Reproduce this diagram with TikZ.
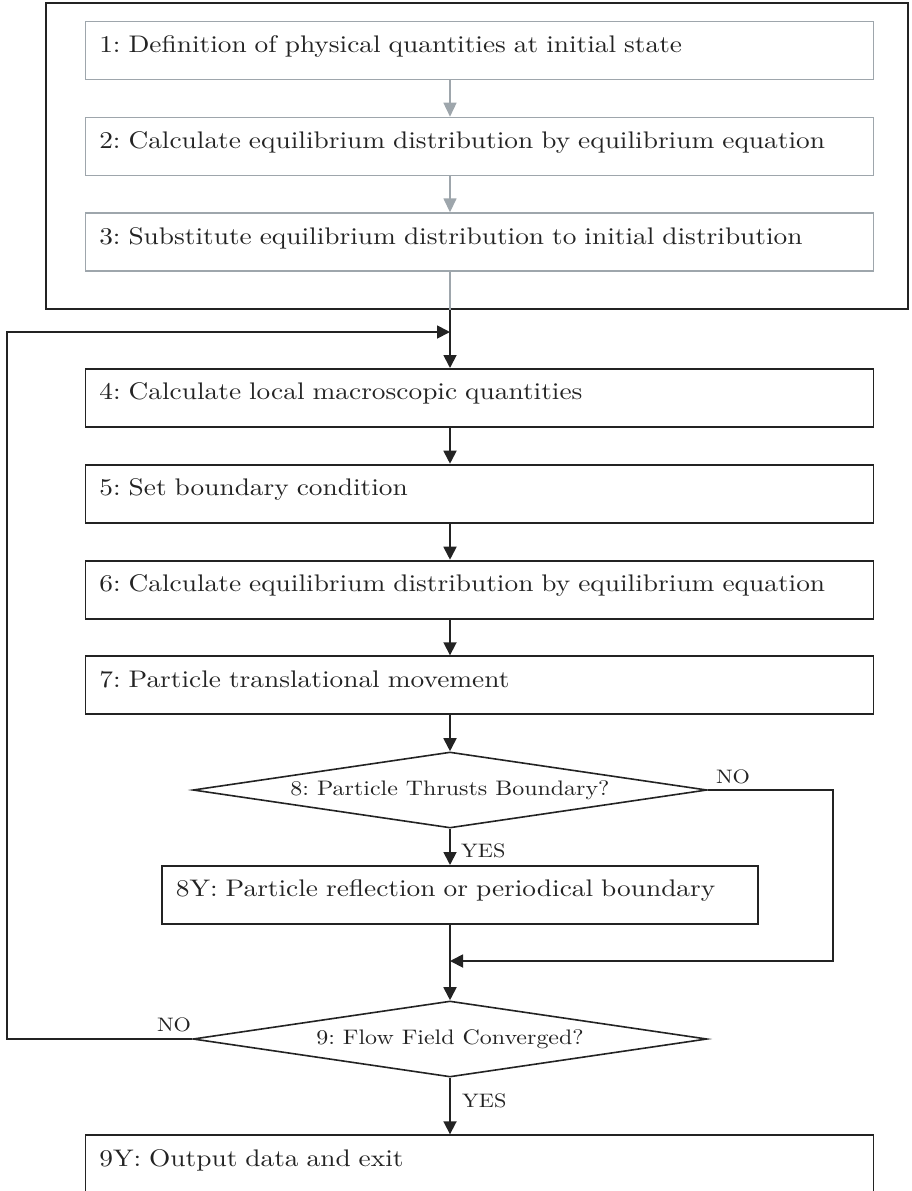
\documentclass[tikz,border=0pt]{standalone}
\usepackage{fontspec}
\setmainfont{lmroman10-regular}[Extension=.otf, FakeStretch=1.14]
\frenchspacing
\usetikzlibrary{shapes.geometric,arrows.meta}
\definecolor{framegray}{RGB}{158,166,172}
\definecolor{inkc}{RGB}{35,35,35}
\tikzset{
  stepbase/.style={rectangle, anchor=north west, inner xsep=14pt, inner ysep=0pt,
    text height=31pt, text depth=27pt, align=left, text=inkc,
    execute at begin node={\hyphenpenalty=10000},
    font=\fontsize{24}{28}\selectfont},
  graybox/.style={stepbase, draw=framegray, line width=1.5pt},
  blackbox/.style={stepbase, draw=inkc, line width=1.8pt},
  decision/.style={diamond, draw=inkc, line width=1.6pt, inner sep=0pt, aspect=6.76,
    minimum width=514pt, minimum height=76pt, text=inkc, font=\fontsize{21}{25}\selectfont},
  lbl/.style={text=inkc, inner sep=0pt, font=\fontsize{19.5}{24}\selectfont},
  garrow/.style={draw=framegray, line width=1.5pt, -{Triangle[length=14pt,width=13pt]}},
  gline/.style={draw=framegray, line width=1.5pt},
  barrow/.style={draw=inkc, line width=1.8pt, -{Triangle[length=13pt,width=13pt]}},
}
\begin{document}
\begin{tikzpicture}[x=1pt,y=-1pt]
\useasboundingbox (0,0) rectangle (912,1191);
\clip (0,0) rectangle (912,1191);
% outer frame
\node[draw=inkc, line width=1.8pt, rectangle, inner sep=0pt, anchor=north west,
      minimum width=862pt, minimum height=306pt] (outer) at (45,2) {};
% spine coordinate
\coordinate (spine) at (450,0);
% initial boxes
\node[graybox, text width=760pt] (b1) at (84.5,20.7) {1: Definition of physical quantities at initial state};
\node[graybox, text width=760pt] (b2) at (84.5,116.7) {2: Calculate equilibrium distribution by equilibrium equation};
\node[graybox, text width=760pt] (b3) at (84.5,212.3) {3: Substitute equilibrium distribution to initial distribution};
% loop boxes
\node[blackbox, text width=760pt] (b4) at (84.5,368) {4: Calculate local macroscopic quantities};
\node[blackbox, text width=760pt] (b5) at (84.5,463.7) {5: Set boundary condition};
\node[blackbox, text width=760pt] (b6) at (84.5,559.7) {6: Calculate equilibrium distribution by equilibrium equation};
\node[blackbox, text width=760pt] (b7) at (84.5,655.3) {7: Particle translational movement};
\node[decision] (d8) at (450,790) {8: Particle Thrusts Boundary?};
\node[blackbox, text width=568pt] (b8y) at (161,865) {8Y: Particle reflection or periodical boundary};
\node[decision] (d9) at (450,1039) {9: Flow Field Converged?};
\node[blackbox, text width=760pt] (b9y) at (84.5,1134.3) {9Y: Output data and exit};
% labels
\node[lbl, anchor=base west] (no8) at ([xshift=8pt,yshift=7pt]d8.east) {NO};
\node[lbl, anchor=base west] (yes8) at ([xshift=11pt,yshift=-29pt]d8.south) {YES};
\node[lbl, anchor=base east] (no9) at ([xshift=-1pt,yshift=8pt]d9.west) {NO};
\node[lbl, anchor=base west] (yes9) at ([xshift=12pt,yshift=-30pt]d9.south) {YES};
% coordinates
\coordinate (join) at (450,332);
\coordinate (lcorner) at (7,1039);
\coordinate (rside) at (833,961);
\coordinate (merge) at (450,961);
% connectors
\draw[garrow] (b1.south -| spine) -- (b2.north -| spine);
\draw[garrow] (b2.south -| spine) -- (b3.north -| spine);
\draw[gline] (b3.south -| spine) -- (outer.south -| spine);
\draw[barrow] (outer.south -| spine) -- (b4.north -| spine);
\draw[barrow] (d9.west) -- (lcorner) |- (join);
\draw[barrow] (b4.south -| spine) -- (b5.north -| spine);
\draw[barrow] (b5.south -| spine) -- (b6.north -| spine);
\draw[barrow] (b6.south -| spine) -- (b7.north -| spine);
\draw[barrow] (b7.south -| spine) -- (d8.north);
\draw[barrow] (d8.south) -- (b8y.north -| d8.south);
\draw[barrow] (d8.east) -| (rside) -- (merge);
\draw[barrow] (b8y.south -| d9.north) -- (d9.north);
\draw[barrow] (d9.south) -- (b9y.north -| d9.south);
\end{tikzpicture}
\end{document}
